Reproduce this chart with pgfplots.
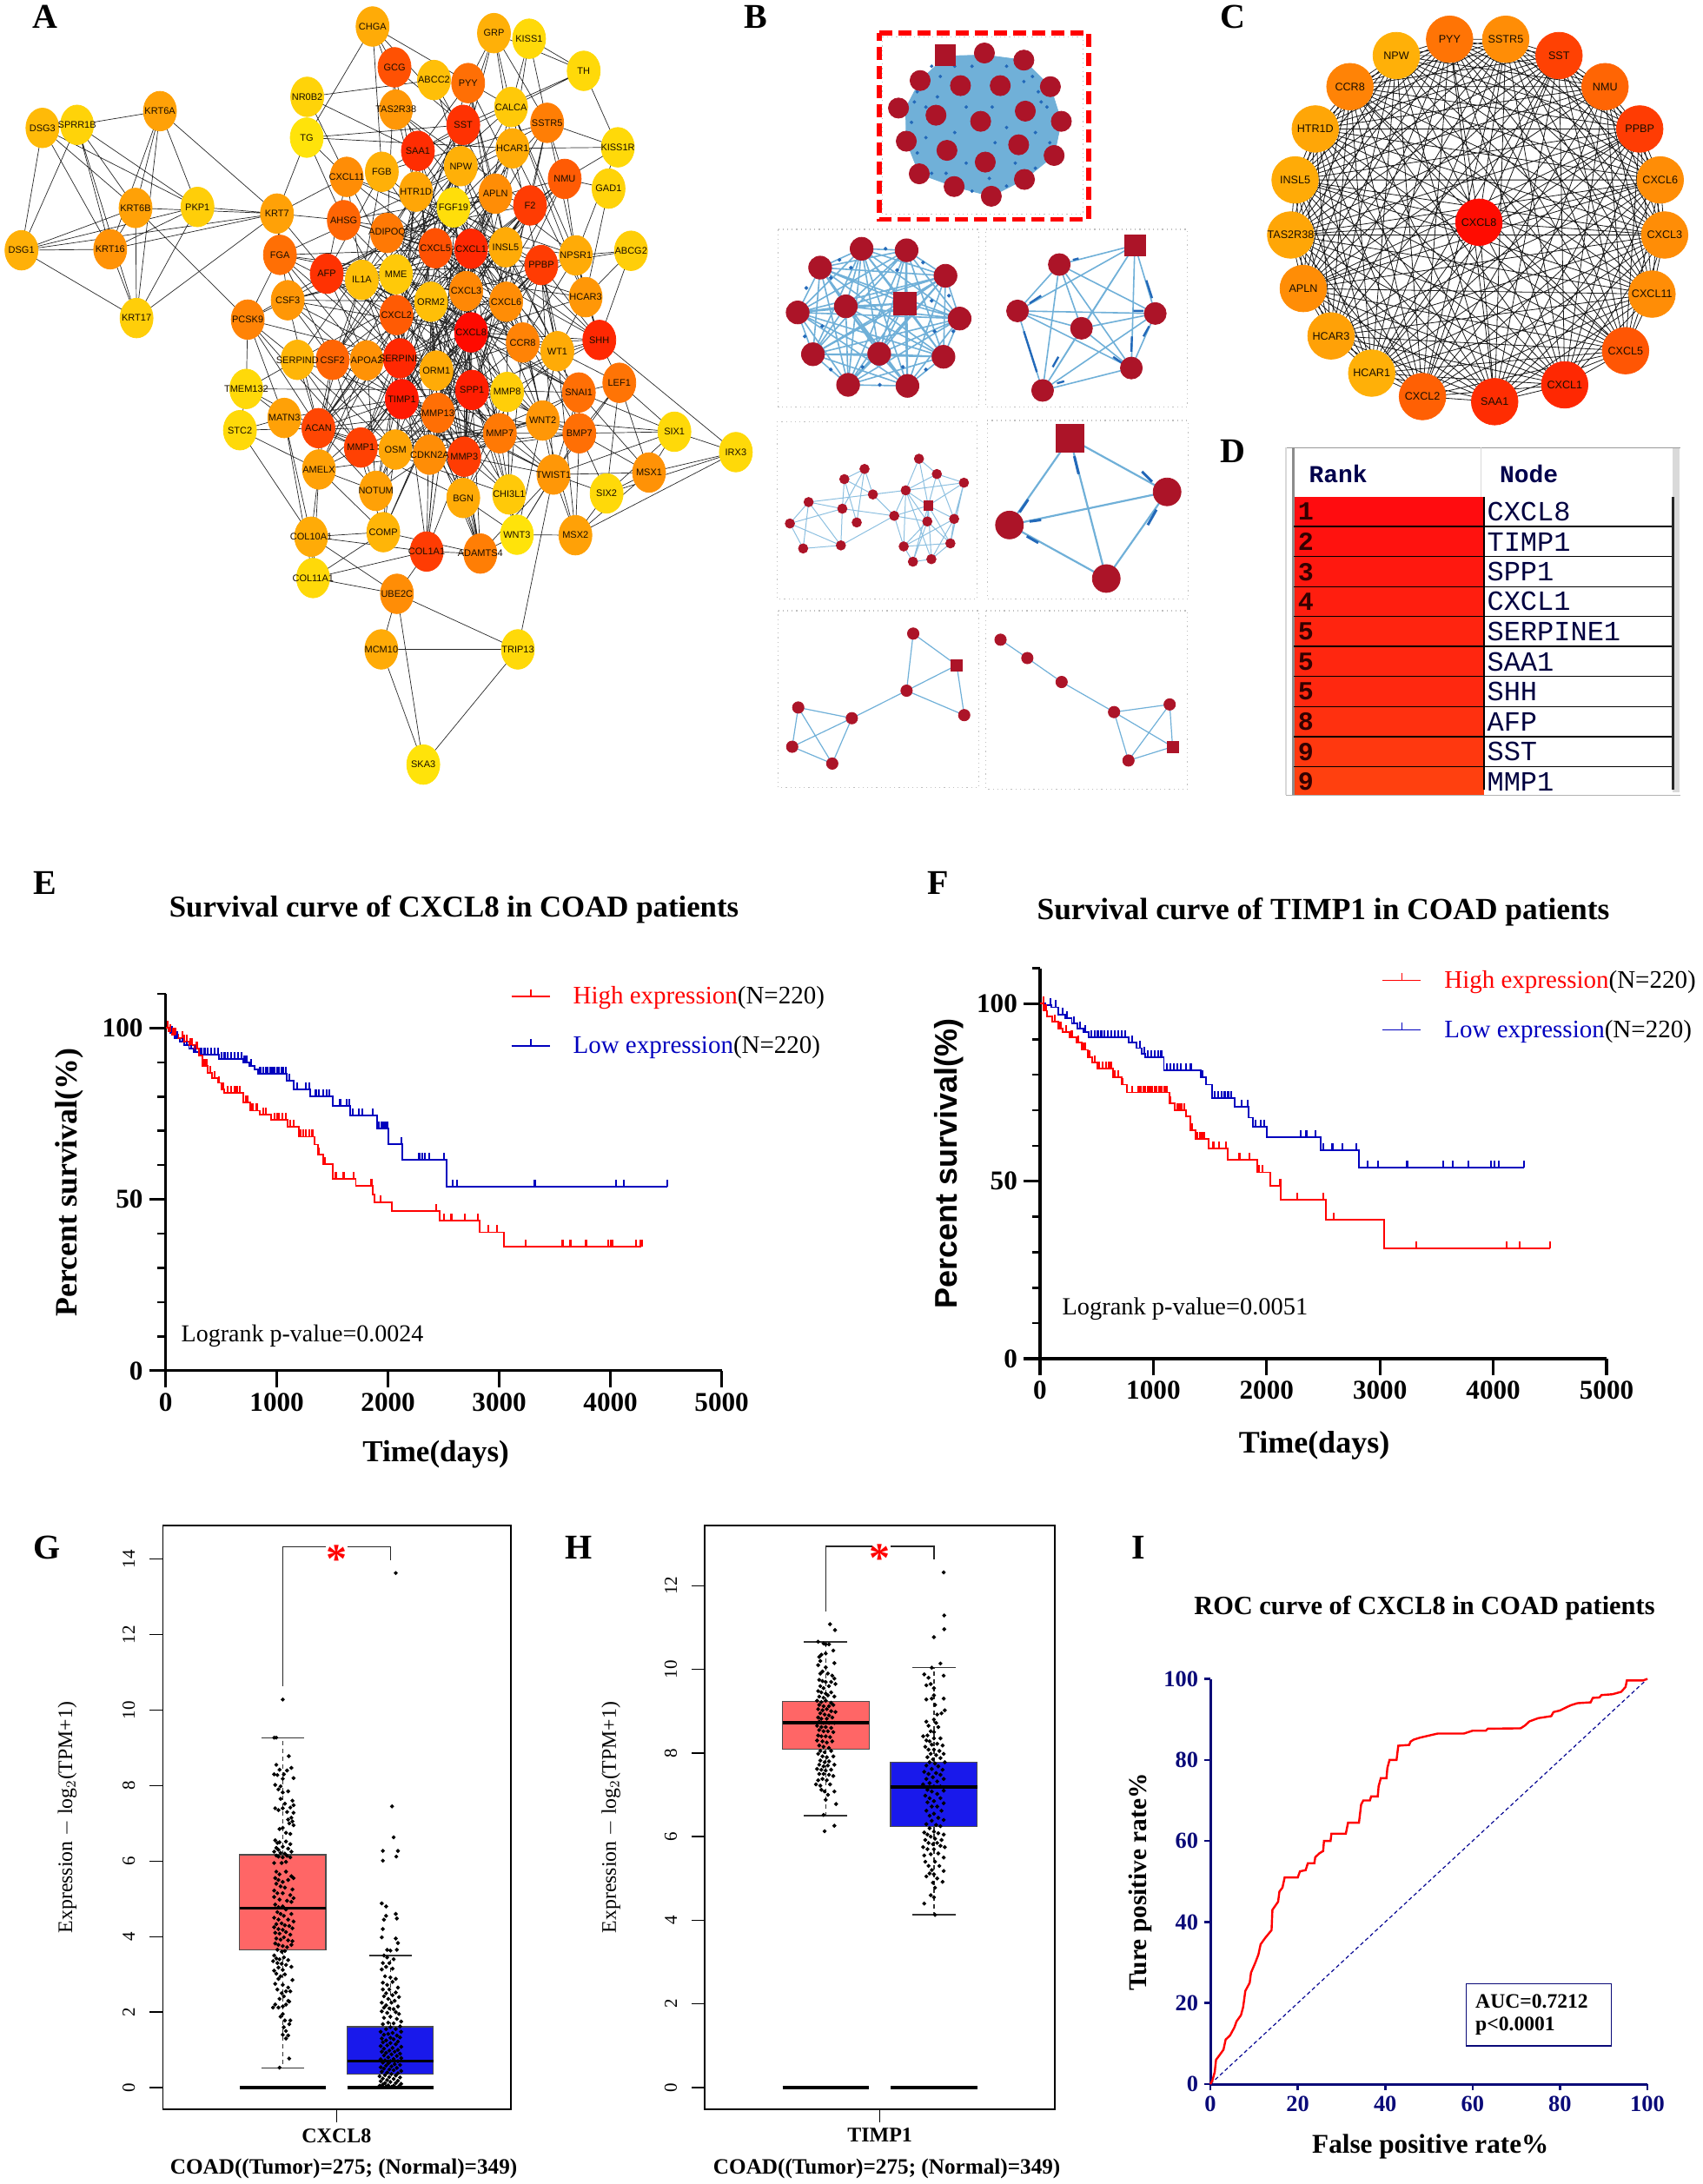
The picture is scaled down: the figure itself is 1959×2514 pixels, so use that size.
\documentclass[border=0pt]{standalone}
\usepackage{fontspec}
\setmainfont{Liberation Serif}
\setsansfont{Liberation Sans}
\setmonofont{Liberation Mono}
\usepackage{pgfplots}
\usepackage{pgfplotstable}
\usepgfplotslibrary{statistics}
\pgfplotsset{compat=1.18}
\newcommand\fs[1]{\fontsize{#1}{#1}\selectfont}

% plot marks
\pgfdeclareplotmark{oval}{\pgfpathellipse{\pgfpointorigin}{\pgfqpoint{\pgfplotmarksize}{0pt}}{\pgfqpoint{0pt}{1.2\pgfplotmarksize}}\pgfusepathqfillstroke}
\pgfdeclareplotmark{tickup}{\pgfpathmoveto{\pgfpointorigin}\pgfpathlineto{\pgfqpoint{0pt}{\pgfplotmarksize}}\pgfusepathqstroke}

% walk through node table: -1 lifts the pen
\newcommand\buildwalk[3]{\gdef#1{}\foreach \n in {#3}{\ifnum\n<0 \xdef#1{#1(nan,nan)}\else\pgfplotstablegetelem{\n}{x}\of#2\let\px\pgfplotsretval\pgfplotstablegetelem{\n}{y}\of#2\xdef#1{#1(\px,\pgfplotsretval)}\fi}}
\newcommand\drawwalk[2]{\edef\tmp{\noexpand\addplot[#1] coordinates {#2};}\tmp}

\definecolor{bred}{RGB}{172,20,40}
\definecolor{bblue}{RGB}{112,176,216}
\definecolor{bdark}{RGB}{35,105,185}
\definecolor{kmblue}{RGB}{0,0,190}
\definecolor{rocnavy}{RGB}{10,10,120}

\tikzset{whisk/.style={draw=black!80,line width=.7pt,dash pattern=on 2.5pt off 2pt}}
\pgfplotsset{
  overlay/.style={hide axis,scale only axis,clip=false,xmin=0,xmax=1568,ymin=0,ymax=1568,y dir=reverse,anchor=north west,
    colormap={heat}{rgb255=(255,0,0) rgb255=(255,230,10)},point meta min=0,point meta max=230},
  gnode/.style={scatter,only marks,mark=oval,scatter/use mapped color={draw=mapped color,fill=mapped color},point meta=explicit},
  glabel/.style={only marks,mark=*,mark size=0pt,mark options={draw=none,fill=none},point meta=explicit symbolic,nodes near coords},
  edge/.style={black!85,line width=.35pt,unbounded coords=jump},
  bedge/.style={bblue,line width=.8pt,unbounded coords=jump},
  bnode/.style={only marks,mark=*,bred,mark options={draw=bred,fill=bred}},
  bframe/.style={black!25,dotted,line width=.6pt},
  kmleg/.style={legend image code/.code={\draw[##1,line width=.9pt] (0pt,0pt) -- (22pt,0pt) (11pt,0pt) -- (11pt,4.2pt);}},
  km/.style={scale only axis,axis lines=left,axis line style={-,line width=1.6pt},xmin=0,xmax=5000,ymin=0,ymax=110,
    xtick={0,1000,...,5000},ytick={0,50,100},minor ytick={10,20,...,110},tick align=outside,
    major tick length=9.5pt,minor tick length=4.7pt,every tick/.style={black,line width=1.6pt},
    minor tick style={line width=1.3pt},
    tick label style={font=\bfseries\fs{15.6}},/pgf/number format/assume math mode=true,/pgf/number format/1000 sep={},
    legend cell align=left,legend style={draw=none,fill=none,inner sep=0pt,row sep=17pt,font=\fs{14.5},nodes={inner sep=0pt}}},
  kmline/.style={const plot,line width=.95pt,forget plot},
  kmtick/.style={only marks,mark=tickup,mark size=4pt,forget plot,mark options={line width=1.1pt}},
  gepia/.style={scale only axis,axis line style={line width=.8pt},xmin=-0.115,xmax=3.118,xtick={1.5},
    xtick pos=lower,ytick pos=left,tick align=outside,major tick length=7.5pt,every tick/.style={black,line width=.7pt},
    yticklabel style={rotate=90,anchor=south,font=\fs{10.5}},yticklabel shift=5pt,
    xticklabel style={font=\bfseries\fs{12}},
    /pgf/number format/assume math mode=true,
    every axis y label/.style={at={(axis description cs:-0.274,0.5)},rotate=90,anchor=center,font=\fs{11.9}},
    every axis x label/.style={at={(axis description cs:0.52,-0.102)},anchor=center,font=\bfseries\fs{12.6}}},
  dots/.style={only marks,mark=*,mark size=.95pt,black},
  bar0/.style={black,line width=2.2pt,forget plot},
  cap/.style={black!80,line width=.7pt},
  tumorbox/.style={boxplot prepared={draw direction=y,draw position=1,box extend=.8,whisker extend=0,every box/.style={draw=black!70,fill={rgb,255:red,255;green,102;blue,102},line width=.6pt},every median/.style={black,line width=1.8pt},every whisker/.style={whisk}}},
  normalbox/.style={boxplot prepared={draw direction=y,draw position=2,box extend=.8,whisker extend=0,every box/.style={draw=black!70,fill={rgb,255:red,25;green,25;blue,235},line width=.6pt},every median/.style={black,line width=1.8pt},every whisker/.style={whisk}}},
}

\pgfplotstableread{
x y g name
764 52 170 CHGA
1013 65 175 GRP
1085 76 215 KISS1
809 132 80 GCG
890 157 190 ABCC2
960 163 110 PYY
1197 139 215 TH
630 190 210 NR0B2
812 215 150 TAS2R38
1048 210 200 CALCA
1122 241 125 SSTR5
629 270 225 TG
950 245 50 SST
857 296 45 SAA1
1051 291 170 HCAR1
1267 289 215 KISS1R
711 347 140 CXCL11
783 337 175 FGB
945 326 175 NPW
1158 351 90 NMU
1248 370 210 GAD1
853 376 165 HTR1D
1016 380 140 APLN
1087 403 60 F2
930 407 220 FGF19
568 419 160 KRT7
705 432 100 AHSG
794 457 120 ADIPOQ
893 487 80 CXCL5
966 488 40 CXCL1
1037 485 170 INSL5
1181 501 170 NPSR1
1294 492 205 ABCG2
574 500 110 FGA
1110 520 60 PPBP
670 537 50 AFP
742 549 190 IL1A
812 538 200 MME
590 589 150 CSF3
884 592 190 ORM2
956 571 135 CXCL3
1038 592 140 CXCL6
1201 583 150 HCAR3
508 627 130 PCSK9
813 618 90 CXCL2
966 652 10 CXCL8
1072 672 130 CCR8
1143 689 170 WT1
1229 667 40 SHH
610 706 180 SERPIND
682 706 100 CSF2
752 707 145 APOA2
820 703 40 SERPINE
895 727 170 ORM1
1270 751 115 LEF1
505 763 215 TMEM132
824 783 25 TIMP1
968 765 30 SPP1
1040 769 205 MMP8
1187 770 110 SNAI1
583 820 160 MATN3
898 810 110 MMP13
1113 825 150 WNT2
492 844 215 STC2
653 840 70 ACAN
740 878 65 MMP1
811 882 165 OSM
881 892 140 CDKN2A
952 896 60 MMP3
1025 850 120 MMP7
1188 850 110 BMP7
1383 847 215 SIX1
654 921 160 AMELX
771 963 160 NOTUM
950 977 170 BGN
1044 970 200 CHI3L1
1135 931 150 TWIST1
1331 927 145 MSX1
1244 968 215 SIX2
1509 887 215 IRX3
786 1044 180 COMP
638 1053 170 COL10A1
1060 1049 225 WNT3
1180 1050 160 MSX2
875 1082 60 COL1A1
985 1086 125 ADAMTS4
642 1134 215 COL11A1
814 1165 140 UBE2C
782 1274 170 MCM10
1062 1274 215 TRIP13
868 1500 225 SKA3
328 218 160 KRT6A
158 245 210 SPRR1B
87 251 185 DSG3
278 408 160 KRT6B
405 406 205 PKP1
44 491 175 DSG1
226 489 145 KRT16
280 624 205 KRT17
}\nodesA

\pgfplotstableread{
x y g name
860 436 12 CXCL8
767 77 115 PYY
945 77 140 SSTR5
1114 109 65 SST
1260 170 100 NMU
1370 253 60 PPBP
1435 353 140 CXCL6
1449 461 140 CXCL3
1409 577 140 CXCL11
1325 688 85 CXCL5
1132 755 40 CXCL1
910 788 45 SAA1
681 778 95 CXCL2
520 732 175 HCAR1
391 659 160 HCAR3
303 566 140 APLN
263 461 165 TAS2R38
277 353 170 INSL5
341 253 165 HTR1D
451 170 130 CCR8
598 109 175 NPW
}\nodesC

\pgfplotstableread{
x y
600 158
740 168
878 168
1052 170
960 118
823 104
525 212
655 226
810 238
965 218
1090 238
552 277
693 295
826 318
942 284
1065 305
597 341
718 366
847 385
962 352
}\nodesBa
\pgfplotstableread{
x y
253 525
397 488
553 491
688 541
737 625
681 700
556 757
350 755
228 695
175 613
342 601
458 694
547 595
}\nodesBb
\pgfplotstableread{
x y
1083 519
938 610
1160 644
1416 615
1333 722
1025 766
1345 481
}\nodesBc
\pgfplotstableread{
x y
337 940
407 920
436 970
213 985
330 998
380 1025
148 1027
194 1076
325 1070
596 900
658 930
752 947
550 962
510 1012
625 1023
718 1018
543 1072
705 1066
575 1102
639 1097
628 992
}\nodesBd
\pgfplotstableread{
x y
1120 860
1457 965
910 1030
1246 1135
}\nodesBe
\pgfplotstableread{
x y
576 1243
553 1355
753 1403
363 1409
177 1388
156 1465
295 1498
727 1305
}\nodesBf
\pgfplotstableread{
x y
879 1255
972 1291
1091 1338
1273 1397
1466 1382
1323 1492
1476 1465
}\nodesBg

\pgfplotstableread{
x y name
285 1004 1
285 1063 2
285 1122 3
285 1180 4
285 1239 5
285 1298 5
285 1357 5
285 1416 8
285 1475 9
285 1533 9
}\drank
\pgfplotstableread{
x y name
885 1004 CXCL8
885 1063 TIMP1
885 1122 SPP1
885 1180 CXCL1
885 1239 SERPINE1
885 1298 SAA1
885 1357 SHH
885 1416 AFP
885 1475 SST
885 1533 MMP1
}\dnode

\newcommand\drow[3]{\addplot[fill={rgb,255:red,255;green,#3;blue,15},draw=none] coordinates {(273,#1)(875,#1)(875,#2)(273,#2)};}

\begin{document}
\begin{tikzpicture}[x=0.5pt,y=-0.5pt]
\useasboundingbox (0,0) rectangle (1959,2514);

\buildwalk\edgesA\nodesA{92,91,94,92,95,91,98,94,96,95,93,94,97,93,96,97,95,98,96,-1,92,97,91,-1,92,98,-1,93,92,-1,92,96,-1,97,98,-1,95,25,94,-1,96,25,97,-1,98,25,91,-1,94,43,-1,
 87,88,89,87,90,88,-1,89,90,-1,87,84,-1,89,76,-1,87,81,-1,86,87,-1,
 79,48,-1,79,71,-1,79,77,-1,79,83,-1,79,78,-1,71,77,78,71,-1,
 0,3,0,12,0,9,0,17,0,13,-1,1,5,1,9,1,14,1,18,1,10,1,12,-1,2,9,2,14,2,6,2,10,-1,6,1,6,9,6,12,-1,6,15,-1,15,14,15,19,15,10,15,31,-1,20,19,20,42,-1,32,34,32,31,32,42,32,48,-1,7,4,7,16,7,13,-1,11,0,11,12,11,14,11,16,11,26,11,25,-1,25,33,25,26,25,38,25,16,25,35,-1,43,33,43,38,43,49,43,35,43,55,43,60,43,52,-1,55,49,55,60,55,63,55,64,55,57,-1,63,60,63,64,63,72,63,81,-1,60,81,60,86,72,81,72,73,72,80,-1,81,80,81,86,81,84,81,87,-1,86,80,86,84,-1,85,84,85,74,85,80,85,76,85,82,-1,82,83,82,76,82,75,82,74,82,70,-1,83,76,83,70,83,78,83,77,-1,78,77,78,70,78,76,78,54,-1,71,70,71,54,71,76,71,59,71,62,-1,77,54,77,59,77,70,77,76,-1,54,59,54,70,54,48,54,47,54,76,-1,48,42,48,58,48,34,48,31,-1,31,19,31,34,31,42,31,22,-1,
 3,12,45,44,18,56,29,35,34,52,13,57,23,65,40,50,19,64,14,33,30,68,28,26,22,73,12,84,29,74,45,61,13,66,34,67,23,56,40,35,45,27,57,44,41,52,28,48,29,38,30,49,12,50,18,64,22,65,28,72,45,80,44,85,52,74,56,69,35,62,36,59,37,46,38,41,33,42,26,31,16,34,27,23,8,30,5,41,10,28,9,40,14,45,19,44,
 5,13,9,21,10,17,12,27,3,21,8,18,4,22,5,23,10,29,14,28,18,36,21,37,22,39,23,40,19,41,31,46,34,47,42,45,48,57,59,45,58,53,46,61,47,68,59,67,70,66,62,65,69,64,75,61,76,56,74,52,73,51,72,50,80,44,84,39,85,53,75,57,82,45,74,40,69,29,62,30,76,34,70,41,75,46,83,47,82,57,85,68,84,61,80,66,73,67,72,65,60,64,49,56,38,52,33,44,26,37,16,36,17,35,
 16,28,17,29,21,30,22,35,24,36,18,37,12,39,13,40,27,41,28,46,29,47,30,48,34,53,41,57,40,58,39,61,37,56,36,52,35,51,33,50,38,64,43,65,49,66,50,67,51,68,52,69,53,70,56,76,57,75,58,74,61,73,65,72,64,60,56,68,57,66,45,67,44,69,39,62,28,59,24,46,18,47,14,42,9,31,10,19,23,22,30,41,34,46,48,47,62,58,75,69,76,59,70,62,
 24,45,24,44,24,57,24,35,24,27,24,13,24,12,24,14,24,19,24,34,24,41,24,38,-1,36,44,36,50,36,64,36,52,36,56,36,28,36,29,36,45,-1,37,45,37,57,37,39,37,52,37,53,37,61,37,50,37,38,-1,39,53,39,52,39,57,39,45,39,68,39,46,39,47,39,29,-1,40,45,40,57,40,53,40,61,40,46,40,34,40,22,40,29,-1,
 45,57,45,56,45,52,45,53,45,61,45,68,45,69,45,58,45,46,45,47,45,48,45,34,45,41,-1,56,52,56,61,56,57,56,65,56,64,56,66,56,67,56,68,56,50,56,44,-1,52,44,52,51,52,50,52,53,52,61,52,64,52,65,52,57,-1,61,57,61,68,61,66,61,67,61,65,61,64,61,69,61,58,-1,64,65,64,72,64,73,64,66,64,50,64,51,-1,65,66,65,67,65,68,65,73,65,72,65,74,-1,68,67,68,74,68,69,68,75,68,76,68,58,-1,69,58,69,62,69,70,69,74,69,76,-1}
\buildwalk\edgesC\nodesC{1,2,3,4,5,6,7,8,9,10,11,12,13,14,15,16,17,18,19,20,1,-1,
 1,4,7,10,13,16,19,2,5,8,11,14,17,20,3,6,9,12,15,18,1,-1,
 1,8,15,2,9,16,3,10,17,4,11,18,5,12,19,6,13,20,7,14,1,-1,
 1,10,19,8,17,6,15,4,13,2,11,20,9,18,7,16,5,14,3,12,1,-1,
 1,3,5,7,9,11,13,15,17,19,1,-1,2,4,6,8,10,12,14,16,18,20,2,-1,
 1,5,9,13,17,1,-1,2,6,10,14,18,2,-1,3,7,11,15,19,3,-1,4,8,12,16,20,4,-1,
 1,6,11,16,1,-1,2,7,12,17,2,-1,3,8,13,18,3,-1,4,9,14,19,4,-1,5,10,15,20,5,-1,
 1,7,13,19,5,11,17,3,9,15,1,-1,2,8,14,20,6,12,18,4,10,16,2,-1,
 1,9,17,5,13,1,-1,2,10,18,6,14,2,-1,3,11,19,7,15,3,-1,4,12,20,8,16,4,-1,
 1,11,-1,3,13,-1,5,15,-1,7,17,-1,9,19,-1,2,12,-1,6,16,-1,8,18,-1,
 0,1,0,3,0,5,0,7,0,9,0,11,0,13,0,15,0,17,0,19,0,2,0,6,0,10,0,12,0,16,0,20}
\buildwalk\edgesBb\nodesBb{0,1,2,3,4,5,6,7,8,9,10,11,12,0,-1,0,2,4,6,8,10,12,1,3,5,7,9,11,0,-1,0,3,6,9,12,2,5,8,11,1,4,7,10,0,-1,0,4,8,12,3,7,11,2,6,10,1,5,9,0,-1,0,5,10,2,7,12,4,9,1,6,11,3,8,0,-1,0,6,12,5,11,4,10,3,9,2,8,1,7,0}
\buildwalk\edgesBc\nodesBc{0,1,2,3,4,5,6,0,-1,0,2,4,6,1,3,5,0,-1,0,3,6,2,5,1,4,0}
\buildwalk\edgesBd\nodesBd{0,1,2,0,4,1,5,0,-1,3,4,6,3,8,6,7,3,-1,4,8,7,-1,2,12,-1,3,12,-1,4,13,-1,8,13,-1,2,13,-1,9,10,11,12,9,20,10,12,20,11,15,20,14,12,13,20,17,16,13,14,18,19,17,14,16,18,20,19,12,16,15,19,-1,11,10,15,17,11}
\buildwalk\edgesBe\nodesBe{0,1,3,2,0,3,-1,1,2}
\buildwalk\edgesBf\nodesBf{0,7,2,1,0,-1,1,7,-1,1,3,4,5,6,3,5,-1,4,6}
\buildwalk\edgesBg\nodesBg{0,1,2,3,4,6,5,3,6,-1,4,5}

% ---------- A
\begin{axis}[overlay,at={(0pt,0pt)},width=440pt,height=460pt]
\drawwalk{edge}{\edgesA}
\addplot[gnode,mark size=9.5pt] table[meta=g] {\nodesA};
\addplot[glabel,nodes near coords style={anchor=center,font=\sffamily\fs{5.5},inner sep=0pt,text=black!90!orange}] table[meta=name] {\nodesA};
\end{axis}

% ---------- B
\begin{axis}[overlay,at={(430pt,0pt)},width=260pt,height=460pt]
\addplot[bframe] coordinates {(107,450)(803,450)(803,798)(107,798)(107,450)};
\addplot[bframe] coordinates {(828,450)(1528,450)(1528,798)(828,798)(828,450)};
\addplot[bframe] coordinates {(103,828)(798,828)(798,1175)(103,1175)(103,828)};
\addplot[bframe] coordinates {(833,825)(1530,825)(1530,1175)(833,1175)(833,825)};
\addplot[bframe] coordinates {(107,1198)(803,1198)(803,1545)(107,1545)(107,1198)};
\addplot[bframe] coordinates {(828,1198)(1528,1198)(1528,1548)(828,1548)(828,1198)};
\addplot[bframe] coordinates {(470,72)(1165,72)(1165,420)(470,420)(470,72)};
\addplot[red,line width=2.7pt,dash pattern=on 7.5pt off 3.5pt] coordinates {(458,65)(1185,65)(1185,430)(458,430)(458,65)};
% top cluster: solid mass of edges
\addplot[fill=bblue,draw=bblue] coordinates {(690,110)(825,108)(960,118)(1052,170)(1090,238)(1065,305)(962,352)(847,385)(718,366)(597,341)(552,277)(550,212)(600,158)(690,110)};
\addplot[only marks,mark=*,mark size=.8pt,bdark] coordinates {(640,130)(670,150)(780,130)(900,130)(990,150)(1020,200)(1050,280)(1000,330)(900,365)(780,375)(640,340)(590,300)(570,240)(590,180)(660,190)(720,260)(760,210)(850,210)(900,250)(860,280)(760,320)(620,270)(1000,260)(1040,210)(930,320)(620,210)(720,130)(840,350)(690,340)(580,200)(1010,180)(960,160)};
\addplot[bnode,mark size=5.8pt] table {\nodesBa};
\addplot[only marks,mark=square*,bred,mark size=5.8pt,mark options={draw=bred,fill=bred}] coordinates {(688,108)};
% dense panel
\drawwalk{bedge}{\edgesBb}
\addplot[only marks,mark=*,mark size=.9pt,bdark] coordinates {(320,510)(480,488)(610,515)(700,580)(715,650)(620,725)(460,755)(290,725)(200,660)(205,565)(290,545)(360,525)(520,530)(640,590)(650,650)(540,720)(400,720)(260,640)};
\addplot[bnode,mark size=6.6pt] coordinates {(253,525)(397,488)(553,491)(688,541)(737,625)(681,700)(556,757)(350,755)(228,695)(175,613)(342,601)(458,694)};
\addplot[only marks,mark=square*,bred,mark size=6.4pt,mark options={draw=bred,fill=bred}] coordinates {(547,595)};
\drawwalk{bedge}{\edgesBc}
\addplot[bdark,line width=1.2pt,unbounded coords=jump] coordinates {(1130,510)(1150,507)(nan,nan)(1385,550)(1405,585)(nan,nan)(1335,660)(1333,690)(nan,nan)(960,650)(1005,730)(nan,nan)(980,595)(1020,580)(nan,nan)(1340,610)(1375,610)(nan,nan)(1270,700)(1300,712)(nan,nan)(1075,752)(1100,748)(nan,nan)(1375,660)(1395,640)(nan,nan)(1060,720)(1080,700)(nan,nan)};
\addplot[bnode,mark size=6.3pt] coordinates {(1083,519)(938,610)(1160,644)(1416,615)(1333,722)(1025,766)};
\addplot[only marks,mark=square*,bred,mark size=6pt,mark options={draw=bred,fill=bred}] coordinates {(1345,481)};
% sparse panels
\drawwalk{bedge,line width=.5pt,bblue!80}{\edgesBd}
\addplot[bnode,mark size=2.7pt] coordinates {(337,940)(407,920)(436,970)(213,985)(330,998)(380,1025)(148,1027)(194,1076)(325,1070)(596,900)(658,930)(752,947)(550,962)(510,1012)(625,1023)(718,1018)(543,1072)(705,1066)(575,1102)(639,1097)};
\addplot[only marks,mark=square*,bred,mark size=2.6pt,mark options={draw=bred,fill=bred}] coordinates {(628,992)};
\drawwalk{bedge,line width=1.1pt}{\edgesBe}
\addplot[bdark,line width=1.5pt,unbounded coords=jump] coordinates {(975,980)(945,1005)(nan,nan)(1370,925)(1405,945)(nan,nan)(1020,1020)(980,1023)(nan,nan)(1390,1030)(1420,1000)(nan,nan)(1010,1065)(970,1052)(nan,nan)(1150,930)(1135,895)(nan,nan)};
\addplot[bnode,mark size=8pt] coordinates {(1457,965)(910,1030)(1246,1135)};
\addplot[only marks,mark=square*,bred,mark size=8pt,mark options={draw=bred,fill=bred}] coordinates {(1120,860)};
\drawwalk{bedge,line width=.6pt}{\edgesBf}
\addplot[bnode,mark size=3.3pt] coordinates {(576,1243)(553,1355)(753,1403)(363,1409)(177,1388)(156,1465)(295,1498)};
\addplot[only marks,mark=square*,bred,mark size=3.3pt,mark options={draw=bred,fill=bred}] coordinates {(727,1305)};
\drawwalk{bedge,line width=.6pt}{\edgesBg}
\addplot[bnode,mark size=3.3pt] coordinates {(879,1255)(972,1291)(1091,1338)(1273,1397)(1466,1382)(1323,1492)};
\addplot[only marks,mark=square*,bred,mark size=3.2pt,mark options={draw=bred,fill=bred}] coordinates {(1476,1465)};
\end{axis}

% ---------- C and D
\begin{axis}[overlay,at={(695pt,0pt)},width=284.5pt,height=460pt]
\drawwalk{edge,line width=.4pt,black!90}{\edgesC}
\addplot[gnode,mark=*,mark size=13.4pt] table[meta=g] {\nodesC};
\addplot[glabel,nodes near coords style={anchor=center,font=\sffamily\fs{6.3},inner sep=0pt,text=black!90!orange}] table[meta=name] {\nodesC};
% table D
\addplot[black!15,line width=4pt] coordinates {(1485,880)(1485,1555)};
\drow{975}{1033}{12}\drow{1033}{1092}{18}\drow{1092}{1151}{24}\drow{1151}{1209}{30}\drow{1209}{1268}{36}
\drow{1268}{1327}{38}\drow{1327}{1386}{40}\drow{1386}{1445}{48}\drow{1445}{1504}{56}\drow{1504}{1560}{64}
\addplot[black!40,line width=.6pt] coordinates {(248,878)(1500,878)};
\addplot[black!15,line width=.6pt] coordinates {(248,878)(248,1560)};
\addplot[black!45,line width=1.5pt] coordinates {(270,878)(270,1560)};
\addplot[black!15,line width=.6pt] coordinates {(866,878)(866,975)};
\addplot[black,line width=.7pt,unbounded coords=jump] coordinates {(273,1033)(1475,1033)(nan,nan)(273,1092)(1475,1092)(nan,nan)(273,1151)(1475,1151)(nan,nan)(273,1209)(1475,1209)(nan,nan)(273,1268)(1475,1268)(nan,nan)(273,1327)(1475,1327)(nan,nan)(273,1386)(1475,1386)(nan,nan)(273,1445)(1475,1445)(nan,nan)(273,1504)(1475,1504)(nan,nan)};
\addplot[black,line width=1.2pt] coordinates {(877,975)(877,1550)};
\addplot[black!85,line width=1.3pt] coordinates {(1475,975)(1475,1550)};
\addplot[black!30,line width=.6pt] coordinates {(248,1560)(1500,1560)};
\addplot[glabel,nodes near coords style={anchor=west,font=\ttfamily\bfseries\fs{15},text=black!80!red,inner sep=0pt}] table[meta=name] {\drank};
\addplot[glabel,nodes near coords style={anchor=west,font=\ttfamily\fs{16},text=black!75!blue,inner sep=0pt}] table[meta=name] {\dnode};
\node[anchor=west,font=\ttfamily\bfseries\fs{14},text=black!70!blue,inner sep=0pt] at (axis cs:320,930) {Rank};
\node[anchor=west,font=\ttfamily\bfseries\fs{14},text=black!70!blue,inner sep=0pt] at (axis cs:925,930) {Node};
\end{axis}

% ---------- E
\begin{axis}[km,at={(95.3pt,-788.9pt)},anchor=south west,width=320pt,height=216.9pt,
  title={Survival curve of CXCL8 in COAD patients},
  every axis title/.style={at={(axis description cs:0.5186,1.224)},anchor=center,font=\bfseries\fs{17.4}},
  xlabel={Time(days)},ylabel={Percent survival(\%)},
  every axis x label/.style={at={(axis description cs:0.486,-0.221)},anchor=center,font=\bfseries\fs{17.5}},
  every axis y label/.style={at={(axis description cs:-0.173,0.5)},rotate=90,anchor=center,font=\bfseries\fs{17.9}},
  legend style={at={(axis cs:3100,102)},anchor=west}]
\addplot[kmline,kmblue] coordinates {(0,100)(40,98.5)(80,97)(130,96)(170,95)(210,94)(250,93)(300,92.2)(480,91)(700,90)(750,89)(800,88)(830,86.7)(1090,84.6)(1150,82)(1300,80)(1500,77.4)(1660,74.4)(1900,70.7)(2005,66.2)(2130,61.6)(2530,53.8)(4510,53.8)};
\addplot[kmtick,kmblue] coordinates {(60,98.5)(100,97)(150,96)(190,95)(230,94)(270,93)(320,92.2)(350,92.2)(380,92.2)(410,92.2)(440,92.2)(470,92.2)(500,91)(530,91)(560,91)(590,91)(620,91)(650,91)(680,91)(710,90)(730,90)(770,89)(850,86.7)(880,86.7)(900,86.7)(920,86.7)(940,86.7)(960,86.7)(980,86.7)(1000,86.7)(1020,86.7)(1040,86.7)(1060,86.7)(1080,86.7)(1110,84.6)(1180,82)(1260,82)(1290,82)(1350,80)(1380,80)(1420,80)(1450,80)(1470,80)(1570,77.4)(1630,77.4)(1650,77.4)(1680,74.4)(1740,74.4)(1770,74.4)(1860,74.4)(1920,70.7)(1940,70.7)(1960,70.7)(1980,70.7)(1995,70.7)(2120,66.2)(2280,61.6)(2310,61.6)(2330,61.6)(2370,61.6)(2500,61.6)(2580,53.8)(2620,53.8)(3320,53.8)(4050,53.8)(4120,53.8)(4510,53.8)};
\addplot[kmline,red] coordinates {(0,100)(30,99)(60,98)(110,97)(160,96)(210,95)(260,94)(300,92)(330,89)(380,87)(420,85.5)(470,84)(500,82)(530,81)(700,78.2)(760,75.9)(850,74.7)(950,73.3)(1100,71.2)(1200,68.3)(1340,66)(1370,63)(1420,60.2)(1500,56.1)(1710,54)(1860,51.5)(1880,49.1)(2035,46.6)(2465,43.9)(2820,40.4)(3040,36.3)(4280,36.3)};
\addplot[kmtick,red] coordinates {(20,100)(40,99)(70,98)(90,98)(150,97)(170,96)(190,96)(220,95)(240,95)(280,94)(350,89)(370,89)(400,87)(440,85.5)(480,84)(520,82)(560,81)(590,81)(620,81)(640,81)(670,81)(720,78.2)(740,78.2)(780,75.9)(820,75.9)(880,74.7)(900,74.7)(980,73.3)(1000,73.3)(1020,73.3)(1050,73.3)(1080,73.3)(1120,71.2)(1150,71.2)(1210,68.3)(1240,68.3)(1260,68.3)(1290,68.3)(1320,68.3)(1380,63)(1430,60.2)(1530,56.1)(1600,56.1)(1690,56.1)(1850,54)(1930,49.1)(2430,46.6)(2500,43.9)(2570,43.9)(2690,43.9)(2810,43.9)(2900,40.4)(2980,40.4)(3240,36.3)(3570,36.3)(3640,36.3)(3780,36.3)(3980,36.3)(4000,36.3)(4020,36.3)(4230,36.3)(4270,36.3)(4280,36.3)};
\addlegendimage{red,kmleg}\addlegendentry{\hspace*{13pt}\textcolor{red}{High expression}(N=220)}
\addlegendimage{kmblue,kmleg}\addlegendentry{\hspace*{13pt}\textcolor{kmblue}{Low expression}(N=220)}
\node[font=\fs{14}] at (axis cs:1230,10.1) {Logrank p-value=0.0024};
\end{axis}

% ---------- F
\begin{axis}[km,at={(598.5pt,-782pt)},anchor=south west,width=326pt,height=224.75pt,
  title={Survival curve of TIMP1 in COAD patients},
  every axis title/.style={at={(axis description cs:0.5,1.143)},anchor=center,font=\bfseries\fs{17.7}},
  xlabel={Time(days)},ylabel={\sffamily Percent survival(\%)},
  every axis x label/.style={at={(axis description cs:0.484,-0.222)},anchor=center,font=\bfseries\fs{18}},
  every axis y label/.style={at={(axis description cs:-0.1615,0.5)},rotate=90,anchor=center,font=\bfseries\fs{18}},
  legend style={at={(axis cs:3015,99.6)},anchor=west}]
\addplot[kmline,kmblue] coordinates {(0,100)(50,99.5)(100,99)(160,97)(220,96)(280,94.5)(330,93)(380,92)(430,90.5)(780,89)(850,87.5)(900,86)(930,85)(1093,81.3)(1421,79.4)(1468,77.2)(1515,73.5)(1717,71)(1843,67.9)(1876,65.4)(1998,62.4)(2477,58.7)(2815,53.8)(4273,53.8)};
\addplot[kmtick,kmblue] coordinates {(90,99.5)(140,99)(200,97)(240,96)(300,94.5)(350,93)(400,92)(450,90.5)(480,90.5)(510,90.5)(540,90.5)(570,90.5)(600,90.5)(630,90.5)(660,90.5)(690,90.5)(720,90.5)(750,90.5)(810,89)(880,87.5)(920,86)(950,85)(980,85)(1010,85)(1040,85)(1070,85)(1120,81.3)(1150,81.3)(1180,81.3)(1210,81.3)(1240,81.3)(1290,81.3)(1330,81.3)(1430,79.4)(1540,73.5)(1570,73.5)(1600,73.5)(1630,73.5)(1660,73.5)(1690,73.5)(1780,71)(1830,71)(1900,65.4)(1950,65.4)(1980,65.4)(2300,62.4)(2350,62.4)(2430,62.4)(2500,58.7)(2580,58.7)(2670,58.7)(2790,58.7)(2890,53.8)(2980,53.8)(3240,53.8)(3560,53.8)(3640,53.8)(3780,53.8)(3980,53.8)(4010,53.8)(4050,53.8)(4270,53.8)};
\addplot[kmline,red] coordinates {(0,100)(30,98)(60,96.5)(110,95)(160,93)(200,92)(260,90.5)(320,89)(370,87)(420,85)(460,83.5)(507,81.7)(647,79.4)(718,77.2)(765,75)(1140,72)(1187,70)(1290,68.2)(1327,64.3)(1374,62)(1491,59.2)(1656,56)(1914,52.5)(2031,48.8)(2125,44.8)(2523,39.2)(3039,31.1)(4503,31.1)};
\addplot[kmtick,red] coordinates {(30,100)(50,98)(130,95)(180,93)(230,92)(280,90.5)(340,89)(380,87)(400,87)(440,85)(480,83.5)(520,81.7)(550,81.7)(580,81.7)(610,81.7)(630,81.7)(660,79.4)(690,79.4)(730,77.2)(810,75)(870,75)(890,75)(910,75)(930,75)(950,75)(970,75)(990,75)(1010,75)(1030,75)(1050,75)(1070,75)(1100,75)(1120,75)(1150,72)(1210,70)(1230,70)(1250,70)(1270,70)(1340,64.3)(1390,62)(1410,62)(1430,62)(1450,62)(1530,59.2)(1580,59.2)(1640,59.2)(1760,56)(1850,56)(1930,52.5)(1960,52.5)(2120,48.8)(2270,44.8)(2500,44.8)(2590,39.2)(3320,31.1)(4120,31.1)(4230,31.1)(4500,31.1)};
\addlegendimage{red,kmleg}\addlegendentry{\hspace*{13pt}\textcolor{red}{High expression}(N=220)}
\addlegendimage{kmblue,kmleg}\addlegendentry{\hspace*{13pt}\textcolor{kmblue}{Low expression}(N=220)}
\node[font=\fs{14.2}] at (axis cs:1280,14) {Logrank p-value=0.0051};
\end{axis}

% ---------- G
\begin{axis}[gepia,at={(93.65pt,-1214pt)},anchor=south west,width=200.25pt,height=336pt,ymin=-0.575,ymax=14.89,ytick={0,2,...,14},
  xticklabels={CXCL8},xlabel={COAD((Tumor)=275; (Normal)=349)},ylabel={Expression $-$ log$_2$(TPM+1)}]
\addplot[tumorbox,boxplot prepared={lower whisker=.52,lower quartile=3.64,median=4.75,upper quartile=6.17,upper whisker=9.27}] coordinates {};
\addplot[normalbox,boxplot prepared={lower whisker=.36,lower quartile=.36,median=.70,upper quartile=1.61,upper whisker=3.5}] coordinates {};
\addplot[cap] coordinates {(.8,9.27)(1.2,9.27)};
\addplot[cap] coordinates {(.8,.52)(1.2,.52)};
\addplot[cap] coordinates {(1.8,3.5)(2.2,3.5)};
\addplot[bar0] coordinates {(.6,0)(1.4,0)};
\addplot[bar0] coordinates {(1.6,0)(2.4,0)};
\addplot[black!85,line width=.7pt] coordinates {(1,10.63)(1,14.32)(1.4,14.32)};
\addplot[black!85,line width=.7pt] coordinates {(1.6,14.32)(2,14.32)(2,13.98)};
\node[red,font=\bfseries\fs{24}] at (axis cs:1.5,14.0) {*};
\addplot[dots] coordinates {(1.0,10.28)(.94,9.27)(.92,9.27)(1.056,8.78)(.94,8.55)(.97,8.42)(1.08,8.47)(1.01,8.3)(1.04,8.4)(.92,8.3)(.95,8.28)(1.1,8.2)(1.0,8.18)(.98,7.98)(.93,8.02)(.96,7.9)(1.05,7.85)(1.0,7.82)(.98,7.65)(1.09,7.6)(1.02,7.52)(1.1,7.48)(1.07,7.42)(.93,7.4)(.96,7.35)(1.0,7.4)(1.04,7.3)(1.1,7.28)(1.08,7.15)(1.05,7.1)(1.09,7.05)(1.06,7.0)(1.1,6.95)(1.0,6.88)(.97,6.85)(1.03,6.75)(1.07,6.72)
(.93,6.55)(.95,6.48)(.97,6.5)(1.03,6.52)(1.07,6.45)(.94,6.35)(.96,6.3)(1.0,6.38)(1.05,6.33)(.92,6.25)(.98,6.22)(1.02,6.2)(1.08,6.25)(.94,6.15)(.96,6.12)(1.0,6.1)(1.04,6.14)(1.07,6.1)(.92,5.95)(.99,5.95)(1.03,5.98)
(.94,5.72)(.97,5.65)(1.03,5.72)(1.08,5.6)(.93,5.55)(.96,5.5)(1.0,5.45)(1.05,5.5)(1.1,5.55)(.94,5.4)(.98,5.33)(1.02,5.3)(1.09,5.25)(.92,5.22)(.95,5.15)(1.0,5.15)(1.07,5.1)(1.1,5.02)(.92,5.05)(.97,4.98)(1.04,4.95)(1.08,4.92)(.93,4.85)(.96,4.78)
(1.0,4.8)(1.03,4.72)(.95,4.65)(.98,4.6)(1.01,4.55)(1.08,4.6)(.92,4.5)(.96,4.45)(1.05,4.45)(1.1,4.4)(.94,4.33)(.99,4.35)(1.02,4.3)(1.06,4.28)(.92,4.25)(.96,4.2)(1.0,4.18)(1.09,4.22)(.93,4.1)(.97,4.08)(1.03,4.12)(1.07,4.05)(.94,3.95)(.98,3.92)(1.01,3.98)(1.05,3.9)(1.09,3.88)(.93,3.82)(.96,3.78)(1.0,3.75)(1.04,3.72)(1.08,3.78)(.95,3.65)(.99,3.6)(1.02,3.62)
(.92,3.5)(.94,3.42)(.97,3.4)(1.01,3.45)(1.05,3.38)(.91,3.35)(.95,3.3)(.99,3.28)(1.03,3.25)(1.08,3.2)(.96,3.18)(.92,3.1)(1.0,3.12)(.94,3.02)(.98,2.95)(1.02,3.0)(1.09,2.85)(.96,2.88)(.93,2.75)(1.0,2.72)(1.05,2.65)(.95,2.6)(1.03,2.55)(.99,2.5)(1.07,2.55)(1.01,2.42)(.97,2.35)(1.05,2.3)(.93,2.2)(.96,2.12)(1.0,2.15)(1.03,2.2)(1.06,2.28)(.91,2.12)
(1.0,1.95)(.98,1.88)(1.02,1.78)(1.07,1.78)(1.06,1.68)(1.01,1.6)(1.03,1.5)(1.0,1.4)(1.05,1.38)(1.03,1.3)(1.06,.77)(.97,.53)};
\addplot[dots] coordinates {(2.05,13.63)(2.015,7.45)(2.03,6.63)(1.93,6.27)(2.07,6.27)(2.055,6.12)(1.93,6.01)(1.92,4.88)(1.96,4.8)(2.05,4.6)(2.06,4.48)(1.96,4.55)(1.94,4.45)(1.93,4.2)(1.92,3.98)(2.05,3.95)(2.07,3.83)(2.06,3.65)(1.97,3.65)(2.0,3.63)
(1.94,3.5)(1.97,3.45)(2.03,3.4)(1.93,3.3)(1.99,3.3)(1.96,3.2)(2.02,3.15)(1.92,3.13)(1.95,2.95)(2.0,2.92)(2.05,2.88)(2.02,2.8)(1.93,2.78)(1.97,2.72)(2.07,2.65)(1.93,2.6)(1.99,2.6)(2.05,2.52)(1.96,2.5)(2.02,2.45)(1.94,2.42)(2.08,2.4)(1.98,2.35)(2.04,2.3)(1.92,2.25)(2.01,2.25)(1.96,2.18)(2.07,2.15)(1.94,2.12)(1.99,2.1)(2.03,2.08)(1.92,2.02)(2.05,2.0)
(1.97,1.98)(2.08,1.95)(2.0,1.88)(1.94,1.85)(2.06,1.82)(2.1,1.75)(1.98,1.72)(2.03,1.7)(1.93,1.68)(2.09,1.62)(2.0,1.6)(2.05,1.55)(1.96,1.55)(2.1,1.48)(1.91,1.48)(2.02,1.45)(1.98,1.42)(1.94,1.4)(2.06,1.38)(2.09,1.33)(2.0,1.32)(1.92,1.3)(2.03,1.28)(1.96,1.25)(2.07,1.22)(1.93,1.2)(2.0,1.18)(2.05,1.15)(1.97,1.12)(1.91,1.1)(2.1,1.08)(2.02,1.05)(1.94,1.03)(2.07,1.0)
(1.99,.98)(1.92,.95)(2.04,.95)(1.96,.92)(2.09,.9)(2.01,.88)(1.94,.85)(2.06,.84)(1.98,.8)(2.1,.78)(2.03,.76)(1.91,.75)(1.95,.72)(2.0,.7)(2.07,.7)(1.93,.66)(1.98,.64)(2.04,.62)(2.09,.6)(1.96,.58)(2.01,.56)(1.91,.54)(2.06,.52)(1.94,.5)(1.99,.48)(2.03,.46)(2.1,.44)(1.92,.42)(1.97,.4)(2.07,.38)(2.01,.36)(1.95,.33)(2.05,.32)(1.9,.3)(1.99,.28)(2.09,.27)(1.93,.24)(2.03,.23)(1.97,.2)(2.07,.18)(1.91,.17)(2.0,.15)(1.95,.12)(2.05,.12)(2.1,.1)(1.93,.08)(1.98,.06)(2.03,.05)(1.9,.05)(2.08,.04)(1.96,.03)(2.01,.02)};
\end{axis}

% ---------- H
\begin{axis}[gepia,at={(405.6pt,-1214pt)},anchor=south west,width=201.4pt,height=336pt,ymin=-0.52,ymax=13.44,ytick={0,2,...,12},xmin=-0.117,xmax=3.117,
  xticklabels={TIMP1},xlabel={COAD((Tumor)=275; (Normal)=349)},ylabel={Expression $-$ log$_2$(TPM+1)},
  every axis y label/.style={at={(axis description cs:-0.268,0.5)},rotate=90,anchor=center,font=\fs{11.9}}]
\addplot[tumorbox,boxplot prepared={lower whisker=6.5,lower quartile=8.09,median=8.72,upper quartile=9.23,upper whisker=10.66}] coordinates {};
\addplot[normalbox,boxplot prepared={lower whisker=4.135,lower quartile=6.25,median=7.19,upper quartile=7.78,upper whisker=10.04}] coordinates {};
\addplot[cap] coordinates {(.8,10.66)(1.2,10.66)};
\addplot[cap] coordinates {(.8,6.5)(1.2,6.5)};
\addplot[cap] coordinates {(1.8,10.04)(2.2,10.04)};
\addplot[cap] coordinates {(1.8,4.135)(2.2,4.135)};
\addplot[bar0] coordinates {(.6,0)(1.4,0)};
\addplot[bar0] coordinates {(1.6,0)(2.4,0)};
\addplot[black!85,line width=.7pt] coordinates {(1,11.39)(1,12.94)(1.43,12.94)};
\addplot[black!85,line width=.7pt] coordinates {(1.6,12.94)(2,12.94)(2,12.62)};
\node[red,font=\bfseries\fs{24}] at (axis cs:1.5,12.65) {*};
\addplot[dots] coordinates {(1.04,11.08)(1.086,10.94)(.99,6.13)(1.08,6.26)(1.095,6.78)
(.93,10.66)(.98,10.62)(1.0,10.6)(1.03,10.6)(.96,10.35)(.94,10.3)(1.0,10.38)(1.07,10.45)(.95,10.2)(1.08,10.15)(.93,10.1)(1.0,10.05)(.97,9.95)(.95,9.9)(1.02,9.9)(1.06,9.85)(.94,9.75)(.97,9.72)(1.08,9.78)(1.0,9.7)(1.09,9.65)(1.05,9.7)(.95,9.6)(.98,9.55)(1.03,9.6)
(.93,9.48)(.96,9.45)(1.0,9.42)(1.05,9.45)(.94,9.35)(.98,9.32)(1.02,9.38)(1.08,9.35)(.92,9.25)(.96,9.22)(1.0,9.25)(1.05,9.2)(.94,9.15)(.98,9.12)(1.03,9.12)(1.07,9.15)(.93,9.05)(.97,9.02)(1.01,9.05)(1.05,9.0)(1.09,8.98)(.95,8.95)(.99,8.92)(1.03,8.9)(.93,8.85)(.96,8.82)(1.01,8.82)(1.06,8.85)(.94,8.75)(.98,8.72)(1.03,8.72)(1.08,8.72)(.92,8.65)(.96,8.62)(1.0,8.62)(1.05,8.6)(.94,8.55)(.98,8.52)(1.02,8.52)(1.07,8.5)
(.93,8.42)(.96,8.4)(1.0,8.4)(1.04,8.38)(.92,8.3)(.97,8.28)(1.01,8.25)(1.06,8.28)(.94,8.18)(.98,8.15)(1.03,8.12)(.95,8.05)(.99,8.02)(1.05,8.05)(.93,7.98)(.97,7.92)(1.01,7.9)(1.07,7.92)(.95,7.82)(.99,7.78)(1.03,7.8)(.94,7.72)(.98,7.68)(1.02,7.7)(1.08,7.72)(.92,7.62)(.96,7.6)(1.0,7.58)(1.05,7.6)(.94,7.5)(.98,7.5)(1.03,7.48)(1.07,7.45)(.93,7.35)(.97,7.38)(1.01,7.35)(.91,7.25)(.95,7.22)(1.04,7.25)(.96,7.12)(.99,7.08)(1.08,7.08)(1.02,7.0)(1.0,6.88)(.98,6.52)};
\addplot[dots] coordinates {(2.09,12.32)(2.095,11.29)(2.095,10.96)(2.0,10.77)(2.06,10.14)(1.98,10.04)
(1.91,9.88)(1.95,9.8)(2.09,9.85)(1.97,9.65)(1.93,9.62)(2.0,9.55)(2.0,9.38)(1.98,9.3)(2.09,9.3)(1.93,9.28)(2.01,9.15)(2.1,9.02)(2.07,8.95)(2.03,8.92)(2.0,8.8)(1.93,8.75)(2.02,8.72)(1.95,8.65)(2.04,8.62)(1.97,8.52)(2.0,8.5)(1.94,8.42)(1.9,8.4)(1.93,8.3)(2.0,8.35)(1.96,8.28)(2.06,8.35)(1.98,8.2)(2.03,8.22)(1.92,8.15)(2.08,8.18)(1.95,8.08)(2.0,8.08)(2.05,8.05)(1.97,7.98)(2.02,7.95)(2.09,7.98)(1.94,7.9)(1.99,7.85)(2.06,7.88)(1.96,7.78)(2.01,7.75)(2.1,7.78)(1.93,7.7)(2.04,7.68)(1.98,7.62)(2.08,7.6)(1.91,7.55)(1.95,7.5)(2.02,7.52)(2.06,7.48)(1.99,7.42)(1.93,7.38)(2.09,7.38)(2.03,7.32)(1.96,7.28)(1.9,7.25)(2.0,7.2)(2.06,7.2)(1.94,7.12)(1.98,7.08)(2.09,7.1)(2.03,7.02)(1.92,6.98)(1.96,6.92)(2.06,6.92)(2.0,6.85)(1.94,6.82)(2.09,6.8)(1.98,6.72)(2.03,6.72)(1.93,6.62)(2.07,6.62)(2.0,6.55)(1.96,6.5)(2.04,6.45)(1.98,6.38)(2.09,6.4)(1.93,6.3)(2.02,6.28)(2.06,6.25)(1.96,6.2)(2.0,6.12)(1.91,6.1)(1.94,6.05)(2.04,6.08)(2.09,6.05)(1.97,6.0)(2.01,5.95)(2.07,5.92)(1.92,5.92)(1.95,5.85)(1.99,5.82)(2.03,5.85)(2.06,5.78)(1.9,5.75)(1.94,5.7)(2.0,5.7)(2.1,5.75)(1.97,5.58)(2.04,5.6)(1.91,5.55)(2.09,5.5)(1.92,5.4)(2.01,5.4)(1.95,5.3)(2.05,5.3)(1.98,5.2)(1.96,5.12)(2.0,5.1)(2.09,5.18)(1.93,5.05)(2.03,5.0)(2.08,4.92)(1.99,4.9)(2.01,4.78)(1.97,4.6)(2.0,4.55)(1.91,4.4)(2.01,4.13)};
\end{axis}

% ---------- I
\begin{axis}[scale only axis,at={(696.5pt,-1199.5pt)},anchor=south west,width=251.5pt,height=233.25pt,axis lines=left,
  axis line style={-,rocnavy,line width=1.5pt},xmin=0,xmax=100,ymin=0,ymax=100,xtick={0,20,...,100},ytick={0,20,...,100},
  tick align=outside,major tick length=3.5pt,every tick/.style={rocnavy,line width=1.3pt},
  tick label style={font=\bfseries\fs{13.2},text=rocnavy},/pgf/number format/assume math mode=true,
  title={ROC curve of CXCL8 in COAD patients},
  every axis title/.style={at={(axis description cs:0.49,1.1757)},anchor=center,font=\bfseries\fs{15.2}},
  xlabel={False positive rate\%},ylabel={Ture positive rate\%},
  every axis x label/.style={at={(axis description cs:0.5035,-0.1535)},anchor=center,font=\bfseries\fs{15.6}},
  every axis y label/.style={at={(axis description cs:-0.1608,0.4994)},rotate=90,anchor=center,font=\bfseries\fs{14.7}},
  clip=false]
\addplot[rocnavy!80!blue,line width=.6pt,dash pattern=on 2.2pt off 1.6pt] coordinates {(0,0)(100,100)};
\addplot[red,line width=1.2pt] coordinates {(0,0)(0.5,1)(1,3)(1.3,6)(2,7)(3,8.5)(3.5,11)(4.5,12)(5.5,14)(6,15.5)(7,17)(7.5,19)(8,23)(9,25)(9.3,27.5)(10.3,30)(11,32)(11.5,34.5)(12.5,36)(14,38)(14.2,43)(15.5,45)(15.8,47.5)(16.5,48.5)(17,51)(20,51)(20.5,52.5)(21.8,52.8)(22.3,54.5)(23.8,54.5)(24,56)(25,57)(25.8,57.5)(26,60)(27.5,60)(27.7,61.8)(31,61.8)(31.5,64.5)(34,64.5)(34.5,69)(35,70)(36.5,70)(36.8,71)(38.3,71)(38.5,73.5)(39,75.5)(40.3,75.5)(40.5,78)(41,80)(42.6,80)(43,83.5)(45.5,83.7)(45.8,84.5)(46.5,85)(48,85.5)(50,86)(52,86.5)(58,86.5)(60,87.2)(63,87.2)(63.5,87.7)(71,87.8)(72,88.5)(73,89.5)(75,90.3)(78,90.8)(78.5,91.8)(80,92.2)(81.5,93)(82.5,93.5)(84,94)(87,94.2)(87.5,95.3)(89,95.4)(89.5,96)(92,96.2)(94,96.8)(95,98)(95.3,99.6)(99,99.6)(100,100)};
\addplot[rocnavy,line width=.7pt] coordinates {(58.5,24.8)(91.7,24.8)(91.7,9.43)(58.5,9.43)(58.5,24.8)};
\node[anchor=west,align=left,font=\bfseries\fs{11.8},inner sep=0pt] at (axis cs:60.6,17.1) {AUC=0.7212\\[1.5pt]p<0.0001};
\end{axis}

% panel letters
\foreach \lt/\lx/\ly in {A/52/19,B/870/19,C/1419/19,D/1419/519,E/52/1016,F/1080/1016,G/54/1781,H/666/1781,I/1310/1781}
  \node[font=\bfseries\fs{20},inner sep=0pt] at (\lx,\ly) {\lt};
\end{tikzpicture}
\end{document}
